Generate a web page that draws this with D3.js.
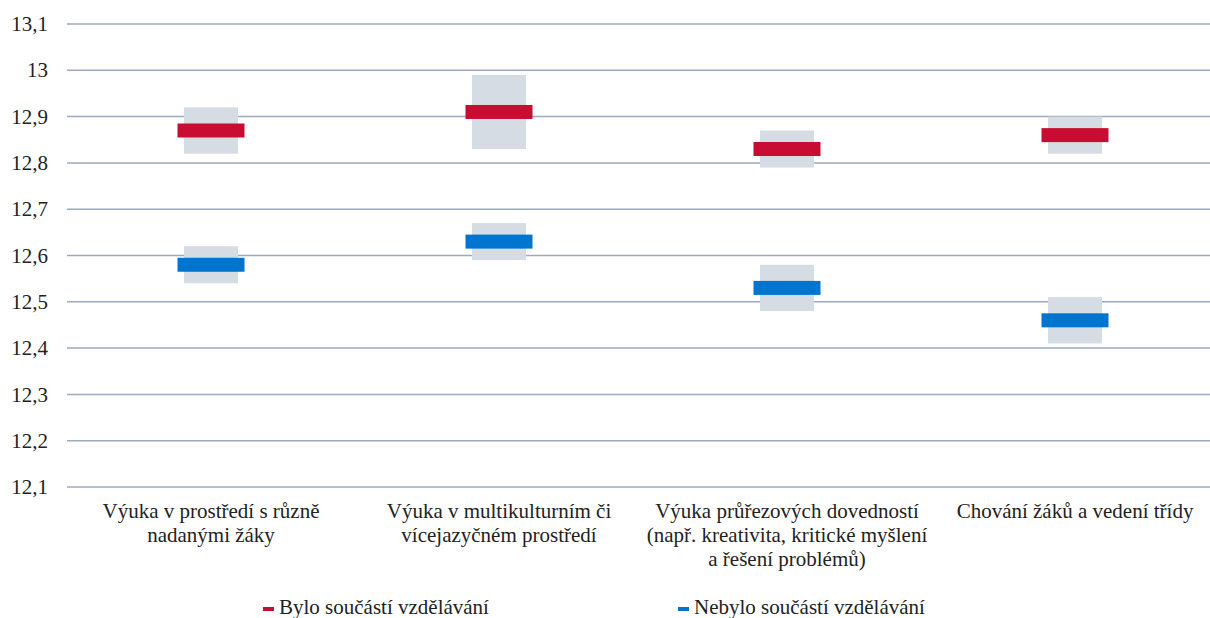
<!DOCTYPE html>
<html>
<head>
<meta charset="utf-8">
<script src="https://cdn.jsdelivr.net/npm/d3@7"></script>
<style>
  body { margin: 0; background: #fff; }
  svg { display: block; }
</style>
</head>
<body>
<svg id="chart" width="1210" height="618"></svg>
<script>
// data
var categories = [
    ["Výuka v prostředí s různě", "nadanými žáky"],
    ["Výuka v multikulturním či", "vícejazyčném prostředí"],
    ["Výuka průřezových dovedností", "(např. kreativita, kritické myšlení", "a řešení problémů)"],
    ["Chování žáků a vedení třídy"]
];
var seriesNames = ["Bylo součástí vzdělávání", "Nebylo součástí vzdělávání"];
var byloValue = [12.87, 12.91, 12.83, 12.86];
var byloLow   = [12.82, 12.83, 12.79, 12.82];
var byloHigh  = [12.92, 12.99, 12.87, 12.90];
var nebyloValue = [12.58, 12.63, 12.53, 12.46];
var nebyloLow   = [12.54, 12.59, 12.48, 12.41];
var nebyloHigh  = [12.62, 12.67, 12.58, 12.51];
var yTicks = [12.1, 12.2, 12.3, 12.4, 12.5, 12.6, 12.7, 12.8, 12.9, 13, 13.1];

var colors = ["#c80d32", "#0075cf"];
var fontFamily = "'Liberation Serif'";
var fontSize = "21px";

var svg = d3.select("#chart");
var margin = { top: 24, left: 67 },
    plotRight = 1219,
    plotBottom = 487;

var x = d3.scaleBand()
    .domain(d3.range(categories.length))
    .range([margin.left, plotRight])
    .padding(0);

var y = d3.scaleLinear()
    .domain([12.1, 13.1])
    .range([plotBottom, margin.top]);

// gridlines
svg.append("g")
    .selectAll("line")
    .data(yTicks)
    .enter().append("line")
    .attr("x1", margin.left)
    .attr("x2", 1210)
    .attr("y1", function(d) { return y(d); })
    .attr("y2", function(d) { return y(d); })
    .attr("stroke", "#9da9bf")
    .attr("stroke-width", 1.5);

// y tick labels
svg.append("g")
    .selectAll("text")
    .data(yTicks)
    .enter().append("text")
    .attr("x", 48)
    .attr("y", function(d) { return y(d); })
    .attr("dy", "0.34em")
    .attr("text-anchor", "end")
    .style("font-family", fontFamily)
    .style("font-size", fontSize)
    .attr("fill", "#222")
    .text(function(d) { return String(+d.toFixed(1)).replace(".", ","); });

var series = [
    { value: byloValue, low: byloLow, high: byloHigh, color: colors[0] },
    { value: nebyloValue, low: nebyloLow, high: nebyloHigh, color: colors[1] }
];

var boxW = 54, markW = 67, markH = 14;

series.forEach(function(s) {
    var g = svg.append("g");
    g.selectAll("rect.ci")
        .data(d3.range(categories.length))
        .enter().append("rect")
        .attr("class", "ci")
        .attr("x", function(i) { return x(i) + x.bandwidth() / 2 - boxW / 2; })
        .attr("width", boxW)
        .attr("y", function(i) { return y(s.high[i]); })
        .attr("height", function(i) { return y(s.low[i]) - y(s.high[i]); })
        .attr("fill", "#d6dce4");
    g.selectAll("rect.mark")
        .data(d3.range(categories.length))
        .enter().append("rect")
        .attr("class", "mark")
        .attr("x", function(i) { return x(i) + x.bandwidth() / 2 - markW / 2; })
        .attr("width", markW)
        .attr("y", function(i) { return y(s.value[i]) - markH / 2; })
        .attr("height", markH)
        .attr("fill", s.color);
});

// category labels
var labels = svg.append("g")
    .selectAll("text")
    .data(categories)
    .enter().append("text")
    .attr("text-anchor", "middle")
    .style("font-family", fontFamily)
    .style("font-size", fontSize)
    .attr("fill", "#222")
    .attr("transform", function(d, i) { return "translate(" + (x(i) + x.bandwidth() / 2) + ",518)"; });
labels.selectAll("tspan")
    .data(function(d) { return d; })
    .enter().append("tspan")
    .attr("x", 0)
    .attr("y", function(d, j) { return j * 24; })
    .text(function(d) { return d; });

// legend
var legendX = [263, 678];
var legend = svg.append("g")
    .selectAll("g")
    .data(seriesNames)
    .enter().append("g")
    .attr("transform", function(d, i) { return "translate(" + legendX[i] + ",0)"; });
legend.append("rect")
    .attr("x", 0)
    .attr("y", 607)
    .attr("width", 11)
    .attr("height", 4)
    .attr("fill", function(d, i) { return colors[i]; });
legend.append("text")
    .attr("x", 16)
    .attr("y", 614)
    .style("font-family", fontFamily)
    .style("font-size", fontSize)
    .attr("fill", "#222")
    .text(function(d) { return d; });
</script>
</body>
</html>
